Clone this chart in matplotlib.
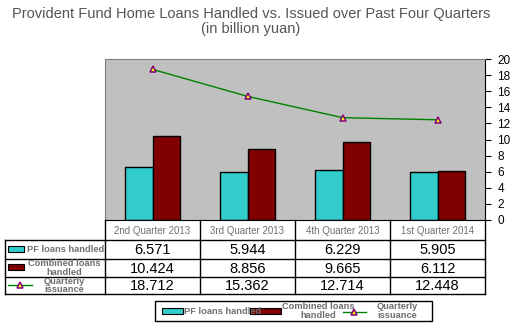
import matplotlib.pyplot as plt
from matplotlib.patches import Rectangle
from matplotlib.lines import Line2D

plt.rcParams['font.family'] = ['Liberation Sans', 'DejaVu Sans']

quarters = ['2nd Quarter 2013', '3rd Quarter 2013', '4th Quarter 2013', '1st Quarter 2014']
pf_loans = [6.571, 5.944, 6.229, 5.905]
combined_loans = [10.424, 8.856, 9.665, 6.112]
issuance = [18.712, 15.362, 12.714, 12.448]
series_names = ['PF loans handled', 'Combined loans\nhandled', 'Quarterly\nissuance']
yticks = list(range(0, 21, 2))

CYAN = '#33CCCC'
DARKRED = '#800000'
GREEN = '#008000'
GREY_TXT = '#6e6e6e'
MK = dict(marker='^', markersize=4.5, markerfacecolor='yellow',
          markeredgecolor='#800080', markeredgewidth=1.1)

W, H = 514, 323
fig = plt.figure(figsize=(W / 100, H / 100), dpi=100)


def px(x0, y0, x1, y1):
    # pixel box (top-left origin) -> figure rect
    return [x0 / W, 1 - y1 / H, (x1 - x0) / W, (y1 - y0) / H]


fig.text(251 / W, 1 - 14 / H, 'Provident Fund Home Loans Handled vs. Issued over Past Four Quarters',
         ha='center', va='center', fontsize=10.5, color='#555555')
fig.text(251 / W, 1 - 29 / H, '(in billion yuan)', ha='center', va='center', fontsize=10.5, color='#555555')

# main plot area
ax = fig.add_axes(px(105, 59, 485, 220))
ax.set_facecolor('#C0C0C0')
idx = range(len(quarters))
bw = 0.29
ax.bar([i - bw / 2 for i in idx], pf_loans, width=bw, color=CYAN, edgecolor='black', linewidth=1)
ax.bar([i + bw / 2 for i in idx], combined_loans, width=bw, color=DARKRED, edgecolor='black', linewidth=1)
ax.plot(list(idx), issuance, color=GREEN, linewidth=1, **MK)
ax.set_xlim(-0.5, 3.5)
ax.set_ylim(0, 20)
ax.set_xticks([])
ax.yaxis.tick_right()
ax.set_yticks(yticks)
ax.tick_params(axis='y', length=4, direction='out', labelsize=8.5, pad=5)
ax.spines['top'].set_color('#808080')
ax.spines['left'].set_color('#808080')

# data table below the plot
col_x = [105, 200, 295, 390, 485]
row_y = [220, 240, 259, 277, 294]
tab = fig.add_axes([0, 0, 1, 1])
tab.set_xlim(0, W)
tab.set_ylim(H, 0)
tab.axis('off')
for x in col_x:
    tab.plot([x, x], [row_y[0], row_y[-1]], color='black', lw=1)
tab.plot([5, 5], [row_y[1], row_y[-1]], color='black', lw=1)
for y in row_y[1:]:
    tab.plot([5, 485], [y, y], color='black', lw=1)

for i, q in enumerate(quarters):
    cx = (col_x[i] + col_x[i + 1]) / 2
    tab.text(cx, 231, q, ha='center', va='center', fontsize=7, color=GREY_TXT)
    for r, vals in enumerate([pf_loans, combined_loans, issuance]):
        ry = (row_y[r + 1] + row_y[r + 2]) / 2 + 1
        tab.text(cx, ry, f'{vals[i]:.3f}', ha='center', va='center', fontsize=10.5, color='black')

lab = dict(fontsize=6.7, fontweight='bold', color=GREY_TXT, linespacing=1.0)

# row labels with keys
tab.add_patch(Rectangle((8, 246), 16, 6, facecolor=CYAN, edgecolor='black', lw=0.8))
tab.text(27, 250, series_names[0], ha='left', va='center', **lab)
tab.add_patch(Rectangle((8, 264), 16, 6, facecolor=DARKRED, edgecolor='black', lw=0.8))
tab.text(64, 268, series_names[1], ha='center', va='center', **lab)
tab.add_line(Line2D([8, 32], [285, 285], color=GREEN, lw=1))
tab.plot([20], [285], **MK)
tab.text(64, 285.5, series_names[2], ha='center', va='center', **lab)

# legend box at the bottom
tab.add_patch(Rectangle((155, 301), 277, 20, facecolor='white', edgecolor='black', lw=1))
tab.add_patch(Rectangle((162, 308), 21, 6, facecolor=CYAN, edgecolor='black', lw=0.8))
tab.text(184, 311, series_names[0], ha='left', va='center', **lab)
tab.add_patch(Rectangle((250, 308), 31, 6, facecolor=DARKRED, edgecolor='black', lw=0.8))
tab.text(318, 311, series_names[1], ha='center', va='center', **lab)
tab.add_line(Line2D([343, 366], [312, 312], color=GREEN, lw=1))
tab.plot([354], [312], **MK)
tab.text(397, 311, series_names[2], ha='center', va='center', **lab)

fig.savefig('out.png', dpi=100)
